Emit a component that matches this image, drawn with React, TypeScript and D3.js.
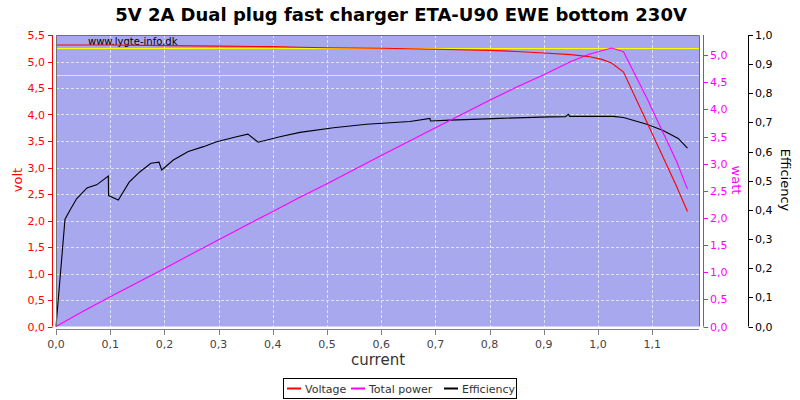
import * as d3 from "d3"

const vCurrent = [0, 0.05, 0.1, 0.2, 0.3, 0.4, 0.45, 0.5, 0.6, 0.7, 0.8, 0.85, 0.9, 0.95, 0.985, 1.007, 1.025, 1.047, 1.09, 1.145, 1.165]
const voltage = [5.31, 5.31, 5.31, 5.3, 5.29, 5.28, 5.27, 5.26, 5.25, 5.23, 5.21, 5.19, 5.16, 5.13, 5.09, 5.04, 4.97, 4.8, 3.86, 2.64, 2.17]
const power = [0, 0.28, 0.55, 1.07, 1.6, 2.12, 2.38, 2.63, 3.15, 3.66, 4.17, 4.41, 4.64, 4.88, 5.02, 5.08, 5.13, 5.06, 4.21, 3.04, 2.53]

const eCurrent = [
  0, 0.0166, 0.026, 0.038, 0.055, 0.058, 0.075, 0.0965, 0.097, 0.115, 0.135, 0.155, 0.175, 0.19, 0.195,
  0.2165, 0.244, 0.272, 0.2965, 0.333, 0.354, 0.373, 0.413, 0.45, 0.512, 0.573, 0.653, 0.69, 0.691, 0.727,
  0.819, 0.911, 0.94, 0.945, 0.948, 1.004, 1.028, 1.047, 1.09, 1.12, 1.148, 1.165,
]
const efficiency = [
  0, 0.368, 0.4, 0.438, 0.471, 0.476, 0.486, 0.516, 0.449, 0.434, 0.495, 0.531, 0.56, 0.564, 0.537,
  0.571, 0.6, 0.617, 0.634, 0.651, 0.66, 0.632, 0.651, 0.666, 0.682, 0.694, 0.703, 0.714, 0.705, 0.708,
  0.714, 0.719, 0.72, 0.728, 0.721, 0.721, 0.721, 0.717, 0.694, 0.672, 0.645, 0.612,
]

const xTicks = d3.range(0, 12).map((i) => i / 10)
const voltTicks = d3.range(0, 12).map((i) => i / 2)
const wattTicks = d3.range(0, 11).map((i) => i / 2)
const effTicks = d3.range(0, 11).map((i) => i / 10)
const limitLines = [5.25, 4.75]

const TITLE = "5V 2A Dual plug fast charger ETA-U90 EWE bottom 230V"
const FONT = "DejaVu Sans, Verdana, sans-serif"

const left = 56
const right = 699
const top = 35
const bottom = 326.5

const fmt = (v: number) => v.toFixed(1).replace(".", ",")
const crisp = (v: number) => Math.round(v) + 0.5

export default function App() {
  const x = d3.scaleLinear().domain([0, 1.1863]).range([left, right])
  const yV = d3.scaleLinear().domain([0, 5.5]).range([bottom, top])
  const yW = d3.scaleLinear().domain([0, 5.37]).range([bottom, top])
  const yE = d3.scaleLinear().domain([0, 1]).range([bottom, top])

  const vLine = d3.line<number>().x((_, i) => x(vCurrent[i])).y((d) => yV(d))
  const pLine = d3.line<number>().x((_, i) => x(vCurrent[i])).y((d) => yW(d))
  const eLine = d3.line<number>().x((_, i) => x(eCurrent[i])).y((d) => yE(d))

  const legend = [
    { label: "Voltage", color: "#ff0000", x: 287 },
    { label: "Total power", color: "#ff00ff", x: 351 },
    { label: "Efficiency", color: "#000000", x: 444 },
  ]

  return (
    <svg
      width={800}
      height={400}
      style={{ position: "absolute", left: 0, top: 0, background: "#fff" }}
      fontFamily={FONT}
    >
      <text x={401} y={21} textAnchor="middle" fontSize={18} fontWeight="bold">
        {TITLE}
      </text>

      <rect x={left} y={top} width={right - left} height={bottom - top} fill="#a8a8ee" />

      {xTicks.slice(1).map((t) => (
        <line key={"gx" + t} x1={crisp(x(t))} x2={crisp(x(t))} y1={top} y2={bottom} stroke="#e0e0ff" strokeDasharray="3,2" />
      ))}
      {voltTicks.slice(1, -1).map((t) => (
        <line key={"gy" + t} x1={left} x2={right} y1={crisp(yV(t))} y2={crisp(yV(t))} stroke="#e0e0ff" strokeDasharray="3,2" />
      ))}
      {limitLines.map((t) => (
        <line key={"lim" + t} x1={left} x2={right} y1={crisp(yV(t))} y2={crisp(yV(t))} stroke="#ffff00" />
      ))}

      <text x={88} y={45} fontSize={10}>
        www.lygte-info.dk
      </text>

      <path d={eLine(efficiency) ?? ""} fill="none" stroke="#000" strokeWidth={1.1} />
      <path d={pLine(power) ?? ""} fill="none" stroke="#ff00ff" strokeWidth={1.1} />
      <path d={vLine(voltage) ?? ""} fill="none" stroke="#ff0000" strokeWidth={1.1} />

      <path
        d={`M${left + 0.5},${bottom}V${top + 0.5}H${right + 0.5}V${bottom}`}
        fill="none"
        stroke="#707070"
        strokeWidth={1}
      />

      {/* x axis */}
      <line x1={left} x2={right} y1={329.5} y2={329.5} stroke="#808080" />
      {xTicks.map((t) => (
        <g key={"xt" + t}>
          <line x1={crisp(x(t))} x2={crisp(x(t))} y1={329.5} y2={335} stroke="#808080" />
          <text x={x(t)} y={348} textAnchor="middle" fontSize={11} fill="#444">
            {fmt(t)}
          </text>
        </g>
      ))}
      <text x={378} y={365} textAnchor="middle" fontSize={15} fill="#333">
        current
      </text>

      {/* volt axis */}
      <line x1={52.5} x2={52.5} y1={top} y2={bottom} stroke="#ff0000" />
      {voltTicks.map((t) => (
        <g key={"vt" + t}>
          <line x1={48} x2={52.5} y1={crisp(yV(t))} y2={crisp(yV(t))} stroke="#ff0000" />
          <text x={45} y={yV(t) + 4} textAnchor="end" fontSize={11} fill="#ff0000">
            {fmt(t)}
          </text>
        </g>
      ))}
      <text transform="translate(22,180) rotate(-90)" textAnchor="middle" fontSize={13} fill="#ff0000">
        volt
      </text>

      {/* watt axis */}
      <line x1={703.5} x2={703.5} y1={top} y2={bottom} stroke="#ff00ff" />
      {wattTicks.map((t) => (
        <g key={"wt" + t}>
          <line x1={703.5} x2={708} y1={crisp(yW(t))} y2={crisp(yW(t))} stroke="#ff00ff" />
          <text x={710} y={yW(t) + 4} fontSize={11} fill="#ff00ff">
            {fmt(t)}
          </text>
        </g>
      ))}
      <text transform="translate(732,180) rotate(90)" textAnchor="middle" fontSize={13} fill="#ff00ff">
        watt
      </text>

      {/* efficiency axis */}
      <line x1={748.5} x2={748.5} y1={top} y2={bottom} stroke="#000" />
      {effTicks.map((t) => (
        <g key={"et" + t}>
          <line x1={748.5} x2={753} y1={crisp(yE(t))} y2={crisp(yE(t))} stroke="#000" />
          <text x={755} y={yE(t) + 4} fontSize={11} fill="#000">
            {fmt(t)}
          </text>
        </g>
      ))}
      <text transform="translate(781,180) rotate(90)" textAnchor="middle" fontSize={13} fill="#000">
        Efficiency
      </text>

      {/* legend */}
      <rect x={283.5} y={378.5} width={233} height={20} fill="#fff" stroke="#000" />
      {legend.map((d) => (
        <g key={d.label}>
          <line x1={d.x} x2={d.x + 14} y1={388.5} y2={388.5} stroke={d.color} strokeWidth={2} />
          <text x={d.x + 18} y={392.5} fontSize={11} fill="#333">
            {d.label}
          </text>
        </g>
      ))}
    </svg>
  )
}
